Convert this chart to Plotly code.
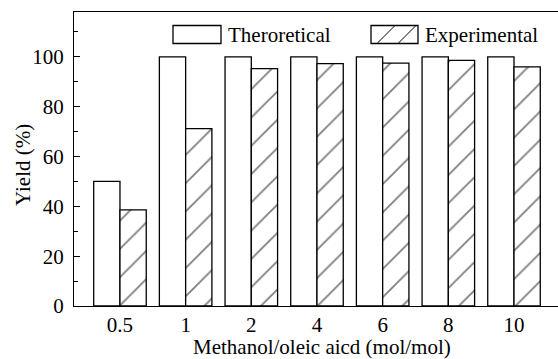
import plotly.graph_objects as go

categories = ["0.5", "1", "2", "4", "6", "8", "10"]
theoretical = [50, 100, 100, 100, 100, 100, 100]
experimental = [38.6, 71.2, 95.3, 97.3, 97.5, 98.6, 96.0]
yticks = [0, 20, 40, 60, 80, 100]

FONT = "Liberation Serif, Times New Roman, serif"
FS = 21
W, H = 558, 359
L, R, T, B = 74, 0, 12, 53
PW, PH = W - L - R, H - T - B

def px(x):
    return (x - L) / PW

def py(y):
    return (H - B - y) / PH

xpos = list(range(len(categories)))

fig = go.Figure()
fig.add_trace(go.Bar(
    x=xpos, y=theoretical, name="Theroretical",
    marker=dict(color="white", line=dict(color="black", width=1.3)),
    showlegend=False,
))
fig.add_trace(go.Bar(
    x=xpos, y=experimental, name="Experimental",
    marker=dict(color="white", line=dict(color="black", width=1.3),
                pattern=dict(shape="/", size=20, solidity=0.09,
                             fgcolor="black", bgcolor="white")),
    showlegend=False,
))

shapes = []
annotations = []
for (x0, x1, label, hatch) in [(173, 221, "Theroretical", False), (371, 418, "Experimental", True)]:
    shapes.append(dict(type="rect", xref="paper", yref="paper",
                       x0=px(x0), x1=px(x1), y0=py(43.5), y1=py(25.5),
                       line=dict(color="black", width=1.3), fillcolor="white"))
    if hatch:
        for (a, b) in [(377, 395), (398, 416)]:
            shapes.append(dict(type="line", xref="paper", yref="paper",
                               x0=px(a), x1=px(b), y0=py(43.5), y1=py(25.5),
                               line=dict(color="black", width=1)))
    annotations.append(dict(text=label, xref="paper", yref="paper",
                            x=px(x1 + 5), y=py(34.5), xanchor="left", yanchor="middle",
                            showarrow=False, font=dict(family=FONT, size=FS, color="black")))

annotations.append(dict(text="Methanol/oleic aicd (mol/mol)", xref="paper", yref="paper",
                        x=px(322), y=0, yanchor="top", yshift=-27, xanchor="center",
                        showarrow=False, font=dict(family=FONT, size=FS, color="black")))
annotations.append(dict(text="Yield (%)", xref="paper", yref="paper",
                        x=px(23), y=py(165), xanchor="center", yanchor="middle", textangle=-90,
                        showarrow=False, font=dict(family=FONT, size=FS, color="black")))

fig.update_layout(
    width=W, height=H,
    margin=dict(l=L, r=R, t=T, b=B, pad=0),
    plot_bgcolor="white", paper_bgcolor="white",
    barmode="group", bargap=0.2, bargroupgap=0,
    shapes=shapes, annotations=annotations,
    font=dict(family=FONT, size=FS, color="black"),
    xaxis=dict(range=[-0.70, 6.67], tickmode="array", tickvals=xpos, ticktext=categories,
               showline=True, linecolor="black", linewidth=1.3, mirror=True,
               ticks="", showgrid=False, zeroline=False,
               tickfont=dict(family=FONT, size=FS, color="black")),
    yaxis=dict(range=[0, 118], tickmode="array", tickvals=yticks,
               showline=True, linecolor="black", linewidth=1.3, mirror=False,
               ticks="inside", ticklen=6, tickwidth=1.2, tickcolor="black",
               ticklabelstandoff=5,
               minor=dict(tickmode="array", tickvals=[10, 30, 50, 70, 90, 110],
                          ticks="inside", ticklen=4, tickwidth=1.2, tickcolor="black"),
               showgrid=False, zeroline=False,
               tickfont=dict(family=FONT, size=FS, color="black")),
)

fig.write_html("out.html", config={"displayModeBar": False},
               post_script="document.body.style.margin='0';document.body.style.overflow='hidden';")
